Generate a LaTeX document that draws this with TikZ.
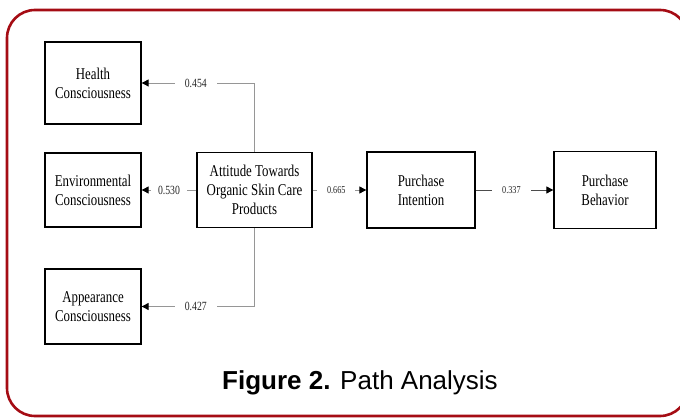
\documentclass[tikz,border=0pt]{standalone}
\usepackage{fontspec}
\usetikzlibrary{arrows.meta, positioning}
\newfontfamily\boxfont[FakeStretch=0.78]{Liberation Serif}
\newfontfamily\capfont{Liberation Sans}
\definecolor{framered}{RGB}{165, 12, 20}
\definecolor{linegray}{RGB}{150, 150, 150}
\tikzset{
  var/.style={draw, line width=1.3pt, align=center, inner sep=0pt,
    font=\boxfont\fontsize{16.5}{19}\selectfont},
  coef/.style={fill=white, text=black!85, inner xsep=10pt, inner ysep=1pt,
    font=\boxfont\fontsize{12.5}{12}\selectfont},
  smallcoef/.style={coef, font=\boxfont\fontsize{10.5}{10}\selectfont},
  path/.style={linegray, line width=0.9pt, -{Triangle[black, length=7pt, width=7pt]}}
}

\begin{document}
\begin{tikzpicture}[x=1pt, y=-1pt]
    \useasboundingbox (0,0) rectangle (680,419);
    % frame
    \draw[framered, line width=2.6pt, rounded corners=28pt] (7,10) rectangle (688,416);
    % variables
    \node[var, minimum width=96pt, minimum height=82pt] (hc) at (93,83) {Health\\Consciousness};
    \node[var, minimum width=96pt, minimum height=74pt] (ec) at (93,190) {Environmental\\Consciousness};
    \node[var, minimum width=96pt, minimum height=75pt] (ac) at (93,306.5) {Appearance\\Consciousness};
    \node[var, minimum width=115pt, minimum height=75pt] (att) at (254.5,190) {Attitude Towards\\Organic Skin Care\\Products};
    \node[var, minimum width=108pt, minimum height=76pt] (pi) at (421,190) {Purchase\\Intention};
    \node[var, minimum width=102pt, minimum height=77pt] (pb) at (605,190) {Purchase\\Behavior};
    % paths
    \draw[path] (att.north) |- node[coef, pos=0.76] {0.454} (hc.east);
    \draw[path] (att.west) -- node[coef, inner xsep=7pt] {0.530} (ec.east);
    \draw[path] (att.south) |- node[coef, pos=0.76] {0.427} (ac.east);
    \draw[path] (att.east) -- node[smallcoef, pos=0.44] {0.665} (pi.west);
    \draw[path, black!70] (pi.east) -- node[smallcoef, pos=0.46] {0.337} (pb.west);
    % caption
    \node[font=\capfont\fontsize{26}{26}\selectfont, anchor=base] (cap) at (360,390)
        {\textbf{Figure 2.} Path Analysis};
\end{tikzpicture}
\end{document}
